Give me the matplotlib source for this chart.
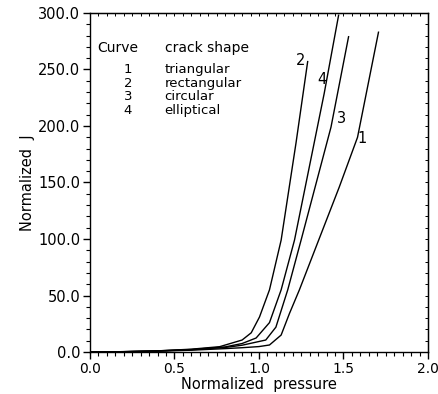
import matplotlib
matplotlib.use("Agg")
import matplotlib.pyplot as plt
from matplotlib.ticker import MultipleLocator, FormatStrFormatter, NullFormatter

# curve 1: triangular
x1 = [0, 0.2, 0.4, 0.6, 0.8, 0.9, 1.0, 1.062, 1.131, 1.18, 1.239, 1.353, 1.475, 1.583, 1.707]
J1 = [0, 0.2, 0.7, 1.6, 3.0, 3.8, 4.8, 6.2, 15, 34, 55, 99, 146, 190, 283]
# curve 2: rectangular
x2 = [0, 0.2, 0.4, 0.6, 0.767, 0.90, 0.954, 1.003, 1.062, 1.131, 1.219, 1.288]
J2 = [0, 0.3, 1.0, 2.5, 4.7, 10.6, 17, 31, 55, 99, 185, 257]
# curve 3: circular
x3 = [0, 0.2, 0.4, 0.6, 0.8, 0.9, 1.04, 1.10, 1.17, 1.249, 1.426, 1.53]
J3 = [0, 0.3, 0.9, 2.0, 4.0, 6.0, 10.6, 22, 55, 99, 199, 279]
# curve 4: elliptical
x4 = [0, 0.2, 0.4, 0.6, 0.8, 0.9, 0.983, 1.062, 1.131, 1.21, 1.386, 1.471]
J4 = [0, 0.3, 1.0, 2.2, 4.5, 7.5, 12.4, 26, 55, 99, 229, 298]

curve_ids = ["1", "2", "3", "4"]
shapes = ["triangular", "rectangular", "circular", "elliptical"]
label_pos = [(1.607, 189), (1.245, 258), (1.489, 207), (1.372, 241)]

fig = plt.figure(figsize=(4.39, 3.94), dpi=100)
ax = fig.add_axes([90/439, 42/394, 338/439, 339/394])

for xs, js in [(x1, J1), (x2, J2), (x3, J3), (x4, J4)]:
    ax.plot(xs, js, color="black", lw=1.0)

for cid, (lx, ly) in zip(curve_ids, label_pos):
    ax.text(lx, ly, cid, fontsize=10.5, ha="center", va="center")

# legend as text block
ax.text(0.04, 269, "Curve", fontsize=10, va="center")
ax.text(0.442, 269, "crack shape", fontsize=10, va="center")
rows_y = [250, 238, 225.7, 214]
for cid, shp, ry in zip(curve_ids, shapes, rows_y):
    ax.text(0.224, ry, cid, fontsize=9.5, ha="center", va="center")
    ax.text(0.442, ry, shp, fontsize=9.5, va="center")

ax.set_xlim(0, 2.0)
ax.set_ylim(0, 300)
ax.xaxis.set_major_locator(MultipleLocator(0.5))
ax.xaxis.set_minor_locator(MultipleLocator(0.05))
ax.yaxis.set_major_locator(MultipleLocator(50))
ax.yaxis.set_minor_locator(MultipleLocator(10))
ax.xaxis.set_major_formatter(FormatStrFormatter("%.1f"))
ax.yaxis.set_major_formatter(FormatStrFormatter("%.1f"))

ax.tick_params(which="major", direction="out", length=5, width=1, labelsize=10.5, pad=2)
ax.tick_params(which="minor", direction="out", length=3, width=0.8)
ax.tick_params(axis="x", labelsize=10)
for sp in ax.spines.values():
    sp.set_linewidth(1.0)

# small inward ticks on the top and right frame
top = ax.secondary_xaxis("top")
top.xaxis.set_major_locator(MultipleLocator(0.05))
top.xaxis.set_major_formatter(NullFormatter())
top.tick_params(direction="in", length=2.5, width=0.7)
right = ax.secondary_yaxis("right")
right.yaxis.set_major_locator(MultipleLocator(10))
right.yaxis.set_major_formatter(NullFormatter())
right.tick_params(direction="in", length=2.5, width=0.7)

ax.set_xlabel("Normalized  pressure", fontsize=10.5, labelpad=1)
ax.set_ylabel("Normalized  J", fontsize=10.5, labelpad=2)

fig.savefig("out.png", dpi=100)
